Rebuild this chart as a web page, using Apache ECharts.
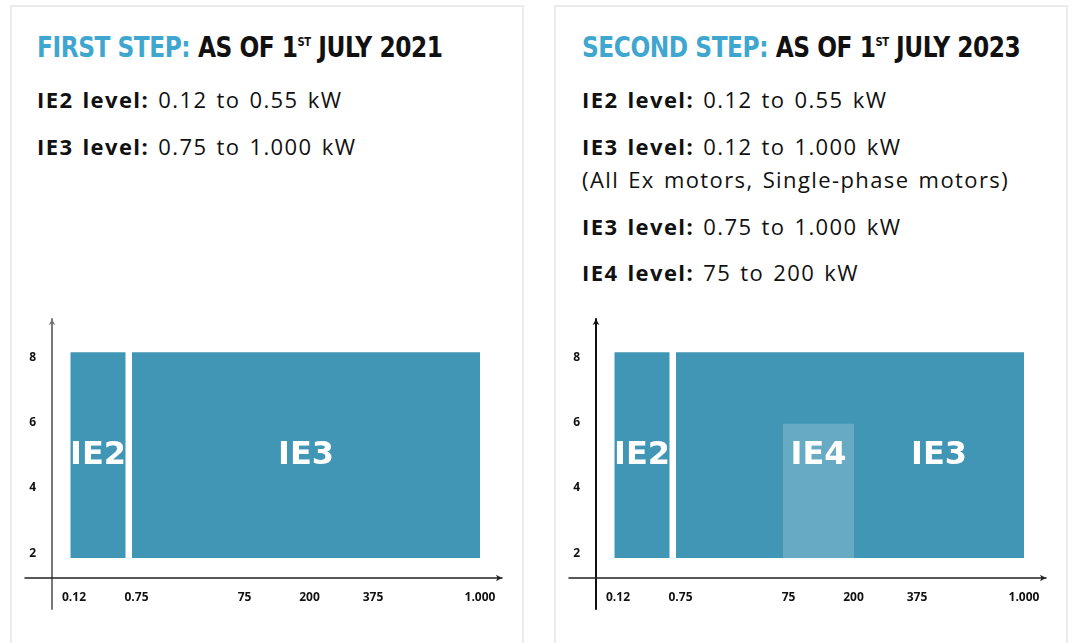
<!DOCTYPE html>
<html>
<head>
<meta charset="utf-8">
<style>
  body { margin: 0; background: #fff; }
  #page { position: relative; width: 1072px; height: 643px; overflow: hidden; }
  .panel { position: absolute; top: 5px; width: 514px; height: 660px; border: 2px solid #ebebeb; box-sizing: border-box; }
  .title { position: absolute; top: 33px; white-space: nowrap; font-family: "DejaVu Sans Condensed", "DejaVu Sans", sans-serif; font-weight: bold; font-size: 28px; line-height: 30px; color: #111; letter-spacing: -0.5px; transform: scaleX(0.925); transform-origin: 0 0; }
  .title .blue { color: #3fa7cf; }
  .title sup { font-size: 12px; vertical-align: 0; position: relative; top: -11px; }
  .txt { position: absolute; white-space: nowrap; font-family: "Open Sans", "Noto Sans", sans-serif; font-size: 22px; line-height: 33px; color: #111; letter-spacing: 1.4px; word-spacing: 2px; }
  .txt b { font-weight: 700; }
  #chart { position: absolute; left: 0; top: 0; width: 1072px; height: 643px; }
</style>
</head>
<body>
<div id="page">
  <div class="panel" style="left:10px"></div>
  <div class="panel" style="left:554px"></div>

  <div class="title" style="left:37px"><span class="blue">FIRST STEP:</span> AS OF 1<sup>ST</sup> JULY 2021</div>
  <div class="txt" style="left:37px;top:83px"><b>IE2 level:</b> 0.12 to 0.55 kW</div>
  <div class="txt" style="left:37px;top:130px"><b>IE3 level:</b> 0.75 to 1.000 kW</div>

  <div class="title" style="left:582px"><span class="blue">SECOND STEP:</span> AS OF 1<sup>ST</sup> JULY 2023</div>
  <div class="txt" style="left:582px;top:83px"><b>IE2 level:</b> 0.12 to 0.55 kW</div>
  <div class="txt" style="left:582px;top:130px"><b>IE3 level:</b> 0.12 to 1.000 kW<br>(All Ex motors, Single-phase motors)</div>
  <div class="txt" style="left:582px;top:210px"><b>IE3 level:</b> 0.75 to 1.000 kW</div>
  <div class="txt" style="left:582px;top:256px"><b>IE4 level:</b> 75 to 200 kW</div>

  <div id="chart"></div>
</div>
<script src="https://cdn.jsdelivr.net/npm/echarts@6/dist/echarts.min.js"></script>
<script>
// x axis is not linear in kW: each tick sits at a drawing position
var tickLabels = ['0.12', '0.75', '75', '200', '375', '1.000'];
var tickPos = [2.2, 8.45, 19.25, 25.75, 32.1, 42.8];
var yTicks = [2, 4, 6, 8];

// bands: name, from, to, bottom, top, label x
var step1Names = ['IE2', 'IE3'];
var step1From = [1.85, 8.0];
var step1To = [7.35, 42.8];
var step1Low = [1.85, 1.85];
var step1High = [8.18, 8.18];
var step1LabelX = [4.6, 25.4];

var step2Names = ['IE2', 'IE3', 'IE4'];
var step2From = [1.85, 8.0, 18.7];
var step2To = [7.35, 42.8, 25.8];
var step2Low = [1.85, 1.85, 1.85];
var step2High = [8.18, 8.18, 5.98];
var step2LabelX = [4.6, 34.3, 22.25];

var labelY = 5;
var colors = { IE2: '#4096b4', IE3: '#4096b4', IE4: '#66aac4' };

function bands(names, from, to, low, high, lx) {
    return names.map(function (n, i) {
        return [from[i], to[i], low[i], high[i], lx[i]];
    });
}
function bandName(i, s) { return s === 0 ? step1Names[i] : step2Names[i]; }

function renderBand(params, api) {
    var p0 = api.coord([api.value(0), api.value(3)]);
    var p1 = api.coord([api.value(1), api.value(2)]);
    var pl = api.coord([api.value(4), labelY]);
    var name = bandName(params.dataIndex, params.seriesIndex);
    return {
        type: 'group',
        children: [
            { type: 'rect', shape: { x: p0[0], y: p0[1], width: p1[0] - p0[0], height: p1[1] - p0[1] },
              style: { fill: colors[name] } },
            { type: 'text', style: { text: name, x: pl[0], y: pl[1], fill: '#fff',
              font: 'bold 32px "DejaVu Sans", sans-serif', align: 'center', verticalAlign: 'middle' } }
        ]
    };
}

function xAxisFor(g) {
    return {
        type: 'value', gridIndex: g, min: -2.7, max: 45, offset: -31,
        axisLine: { onZero: false, lineStyle: { color: '#222', width: 1.5 }, symbol: ['none', 'arrow'], symbolSize: [5, 6] },
        axisTick: { show: false }, splitLine: { show: false },
        axisLabel: { customValues: tickPos, margin: 14, color: '#111', fontFamily: 'Open Sans', fontWeight: 'bold', fontSize: 12,
            formatter: function (v) { var i = tickPos.indexOf(v); return i < 0 ? '' : tickLabels[i]; } }
    };
}
function yAxisFor(g, color) {
    return {
        type: 'value', gridIndex: g, min: 0.28, max: 9.2, offset: -27,
        axisLine: { show: true, onZero: false, lineStyle: { color: color, width: 2 }, symbol: ['none', 'arrow'], symbolSize: [5, 6] },
        axisTick: { show: false }, splitLine: { show: false },
        axisLabel: { customValues: yTicks, margin: 16, color: '#111', fontFamily: 'Open Sans', fontWeight: 'bold', fontSize: 12 }
    };
}

var chart = echarts.init(document.getElementById('chart'));
chart.setOption({
    animation: false,
    grid: [
        { left: 25, top: 319, width: 477, height: 290 },
        { left: 569, top: 319, width: 477, height: 290 }
    ],
    xAxis: [xAxisFor(0), xAxisFor(1)],
    yAxis: [yAxisFor(0, '#777'), yAxisFor(1, '#111')],
    series: [
        { type: 'custom', xAxisIndex: 0, yAxisIndex: 0, renderItem: renderBand,
          encode: { x: [0, 1], y: [2, 3] },
          data: bands(step1Names, step1From, step1To, step1Low, step1High, step1LabelX) },
        { type: 'custom', xAxisIndex: 1, yAxisIndex: 1, renderItem: renderBand,
          encode: { x: [0, 1], y: [2, 3] },
          data: bands(step2Names, step2From, step2To, step2Low, step2High, step2LabelX) }
    ]
});
</script>
</body>
</html>
